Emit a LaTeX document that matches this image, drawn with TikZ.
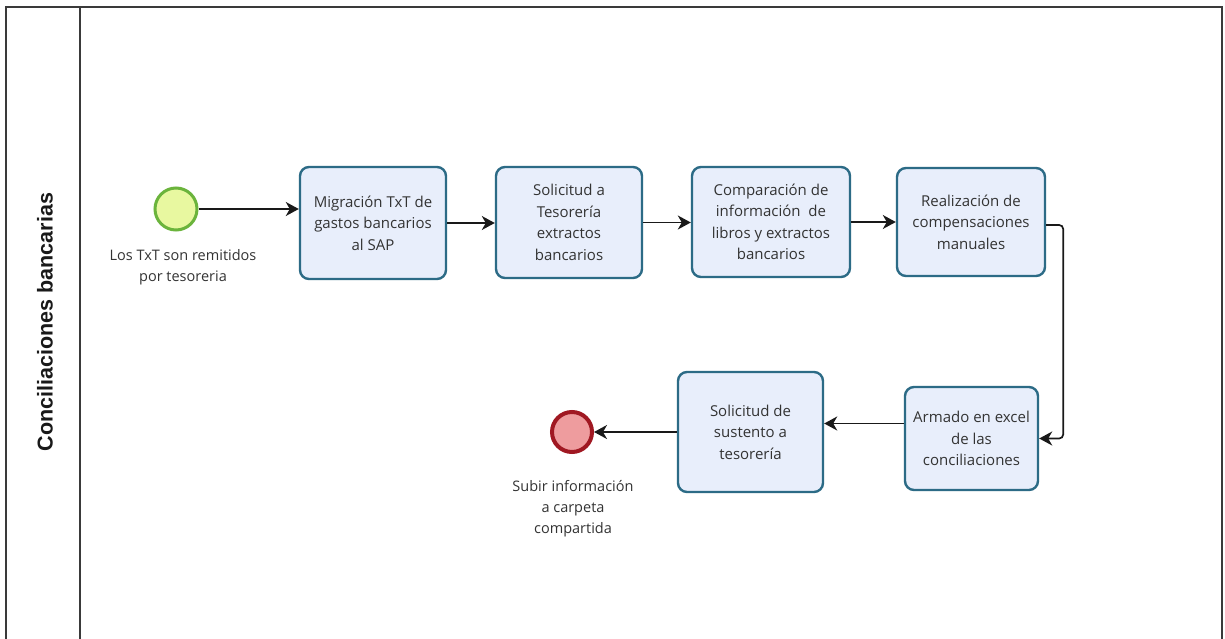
\documentclass[tikz,border=0pt]{standalone}
\usepackage{fontspec}
\setmainfont{Open Sans}
\newfontfamily\titlefont{Liberation Sans}
\usetikzlibrary{arrows.meta}
\definecolor{taskfill}{HTML}{E8EEFB}
\definecolor{taskline}{HTML}{2C6B86}
\definecolor{textgray}{HTML}{333333}
\definecolor{startfill}{HTML}{E8F8A0}
\definecolor{startline}{HTML}{6BB43C}
\definecolor{endfill}{HTML}{EE9C9E}
\definecolor{endline}{HTML}{A01822}
\definecolor{framegray}{HTML}{3A3A3A}
\begin{document}
\begin{tikzpicture}[x=1pt,y=-1pt,
  task/.style={draw=taskline, line width=2.4pt, fill=taskfill, rounded corners=9pt,
    align=center, text=textgray, inner sep=0pt,
    font=\fontsize{15}{21.5}\selectfont},
  startev/.style={circle, draw=startline, fill=startfill, line width=3pt,
    minimum size=42pt, inner sep=0pt},
  endev/.style={circle, draw=endline, fill=endfill, line width=4pt,
    minimum size=40pt, inner sep=0pt},
  evlabel/.style={align=center, text=textgray, inner sep=0pt,
    font=\fontsize{14.5}{21}\selectfont},
  flow/.style={-{Stealth[length=13pt,width=14pt,inset=4pt]}, line width=1.7pt, draw=black!90},
  lane/.style={line width=1.8pt, draw=framegray}
]
\useasboundingbox (0,0) rectangle (1225,639);
\clip (0,0) rectangle (1225,639);
\fill[white] (0,0) rectangle (1225,639);

% pool frame and lane header
\draw[lane] (6,7) rectangle (1222,660);
\draw[lane] (80,7) -- (80,660);
\node[rotate=90, text=black!90, font=\titlefont\bfseries\fontsize{21.5}{24}\selectfont]
  (lanetitle) at (45,322) {Conciliaciones bancarias};

% events
\node[startev] (start) at (176,209) {};
\node[evlabel, anchor=north] (startlbl) at (183,249) {Los TxT son remitidos\\por tesoreria};
\node[evlabel, anchor=north] (finishlbl) at (573,480) {Subir información\\a carpeta\\compartida};
\node[endev] (finish) at (572,432) {};

% tasks
\node[task, minimum width=146pt, minimum height=112pt] (m1) at (373,223)
  {Migración TxT de\\gastos bancarios\\al SAP};
\node[task, minimum width=146pt, minimum height=111pt] (m2) at (569,222.5)
  {Solicitud a\\Tesorería\\extractos\\bancarios};
\node[task, minimum width=158pt, minimum height=110pt] (m3) at (771,222)
  {Comparación de\\información~ de\\libros y extractos\\bancarios};
\node[task, minimum width=148pt, minimum height=108pt] (m4) at (971,222)
  {Realización de\\compensaciones\\manuales};
\node[task, minimum width=133pt, minimum height=103pt] (m5) at (971.5,438.5)
  {Armado en excel\\de las\\conciliaciones};
\node[task, minimum width=145pt, minimum height=120pt] (m6) at (750.5,432)
  {Solicitud de\\sustento a\\tesorería};

% sequence flows
\draw[flow] (start.east) -- (start.east -| m1.west);
\draw[flow] (m1.east) -- (m1.east -| m2.west);
\draw[flow] (m2.east) -- (m2.east -| m3.west);
\draw[flow] (m3.east) -- (m3.east -| m4.west);
\draw[flow, rounded corners=4pt] ([yshift=-3pt]m4.east) -- ++(17,0) |- (m5.east);
\draw[flow] ([yshift=15pt]m5.west) -- ([yshift=15pt]m5.west -| m6.east);
\draw[flow] (m6.west |- finish.east) -- (finish.east);
\end{tikzpicture}
\end{document}
